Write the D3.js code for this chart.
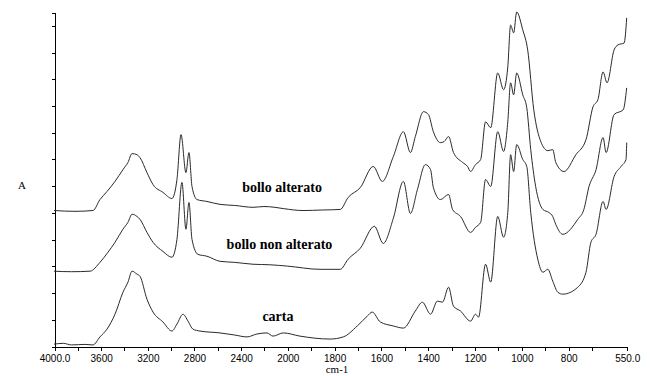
<!DOCTYPE html>
<meta charset="utf-8">
<style>
body { margin: 0; background: #fff; }
.axis path, .axis line { stroke: #000; shape-rendering: crispEdges; }
.axis text { font-family: "Liberation Sans", Arial, sans-serif; font-size: 10px; fill: #000; }
.spettro { fill: none; stroke: #2a2a2a; stroke-width: 1; stroke-linejoin: round; }
.nome { font-family: "Liberation Serif", "Times New Roman", serif; font-weight: bold; font-size: 14px; text-anchor: middle; }
.lab { font-family: "Liberation Serif", "Times New Roman", serif; font-size: 11px; }
</style>
<svg width="650" height="376"></svg>
<script src="https://d3js.org/d3.v7.min.js"></script>
<script>

// wavenumber (cm-1), absorbance
var bolloAlterato = [
  [4000,0.507],[3820,0.504],[3666,0.507],[3606,0.548],[3546,0.578],[3477,0.616],[3409,0.660],
  [3366,0.687],[3331,0.720],[3289,0.716],[3263,0.705],[3203,0.649],[3151,0.604],[3066,0.575],
  [2989,0.552],[2946,0.623],[2911,0.791],[2869,0.649],[2843,0.724],[2817,0.597],[2774,0.548],
  [2689,0.541],[2577,0.530],[2450,0.526],[2294,0.519],[2200,0.522],[2106,0.519],[2030,0.514],
  [1933,0.507],[1850,0.509],[1774,0.511],[1740,0.556],[1688,0.593],[1633,0.672],[1594,0.616],
  [1547,0.709],[1504,0.802],[1474,0.724],[1453,0.784],[1418,0.877],[1397,0.866],[1376,0.802],
  [1346,0.761],[1330,0.765],[1311,0.784],[1290,0.724],[1251,0.687],[1230,0.672],[1217,0.653],
  [1196,0.679],[1174,0.698],[1153,0.839],[1131,0.817],[1101,1.022],[1076,0.959],[1058,1.045],
  [1046,1.201],[1033,1.172],[1020,1.250],[994,1.183],[973,1.108],[947,0.884],[917,0.765],
  [887,0.731],[866,0.735],[853,0.687],[818,0.653],[767,0.716],[724,0.772],[694,0.895],
  [673,0.922],[651,1.026],[634,0.985],[604,1.108],[587,1.127],[561,1.134],[550,1.228]
];

var bolloNonAlterato = [
  [4000,0.280],[3850,0.278],[3691,0.280],[3606,0.313],[3537,0.351],[3477,0.388],[3409,0.437],
  [3366,0.463],[3331,0.493],[3289,0.485],[3263,0.474],[3203,0.425],[3151,0.388],[3066,0.354],
  [2989,0.332],[2946,0.399],[2903,0.612],[2869,0.437],[2843,0.537],[2817,0.399],[2766,0.343],
  [2689,0.336],[2577,0.317],[2450,0.313],[2294,0.306],[2150,0.304],[2000,0.299],[1860,0.287],
  [1774,0.287],[1740,0.325],[1688,0.366],[1628,0.448],[1590,0.384],[1547,0.478],[1504,0.616],
  [1474,0.496],[1444,0.586],[1410,0.679],[1388,0.660],[1376,0.593],[1346,0.548],[1311,0.567],
  [1294,0.511],[1260,0.485],[1217,0.425],[1196,0.444],[1174,0.463],[1153,0.623],[1131,0.597],
  [1101,0.802],[1076,0.728],[1058,0.839],[1046,0.985],[1033,0.940],[1020,1.022],[994,0.940],
  [977,0.892],[960,0.735],[939,0.597],[908,0.511],[883,0.500],[866,0.485],[853,0.455],
  [823,0.418],[759,0.474],[733,0.511],[711,0.597],[681,0.660],[651,0.780],[638,0.724],
  [604,0.866],[565,0.884],[550,0.966]
];

var carta = [
  [4000,0.007],[3920,0.010],[3850,0.004],[3734,0.006],[3666,0.004],[3606,0.034],[3546,0.063],
  [3477,0.119],[3409,0.201],[3366,0.239],[3331,0.280],[3289,0.269],[3263,0.261],[3203,0.175],
  [3151,0.127],[3066,0.090],[2989,0.056],[2946,0.082],[2894,0.119],[2851,0.093],[2809,0.063],
  [2749,0.056],[2577,0.049],[2450,0.041],[2346,0.034],[2260,0.045],[2174,0.049],[2123,0.037],
  [2034,0.049],[1946,0.037],[1817,0.026],[1761,0.034],[1701,0.075],[1658,0.112],[1637,0.127],
  [1603,0.090],[1547,0.075],[1504,0.067],[1453,0.131],[1423,0.164],[1388,0.119],[1359,0.168],
  [1337,0.164],[1311,0.220],[1290,0.149],[1260,0.131],[1217,0.093],[1196,0.119],[1183,0.108],
  [1153,0.306],[1131,0.239],[1101,0.485],[1076,0.407],[1058,0.500],[1046,0.716],[1033,0.653],
  [1020,0.754],[994,0.698],[977,0.672],[960,0.500],[930,0.325],[908,0.276],[887,0.287],
  [866,0.243],[844,0.201],[823,0.194],[759,0.220],[724,0.276],[703,0.388],[681,0.418],
  [651,0.541],[638,0.511],[604,0.634],[574,0.672],[553,0.698],[550,0.761]
];

var serie = [
  {nome: "bollo alterato", dati: bolloAlterato, lx: 2045, ly: 0.575},
  {nome: "bollo non alterato", dati: bolloNonAlterato, lx: 2067, ly: 0.364},
  {nome: "carta", dati: carta, lx: 2080, ly: 0.093}
];

var xMajor = [4000, 3600, 3200, 2800, 2400, 2000, 1800, 1600, 1400, 1200, 1000, 800, 550];
var xMinor = [3800, 3400, 3000, 2600, 2200, 1900, 1700, 1500, 1300, 1100, 900, 700];
var yTicks = d3.range(0, 1.25, 0.1);

var svg = d3.select("svg");

// the spectrometer plot expands the scale below 2000 cm-1
var x = d3.scaleLinear()
    .domain([4000, 2000, 550])
    .range([54, 287.3, 626.7]);

var y = d3.scaleLinear()
    .domain([0, 1.25])
    .range([346, 12]);

svg.append("g")
    .attr("class", "axis")
    .attr("transform", "translate(0.5,346.5)")
    .call(d3.axisBottom(x)
      .tickValues(xMajor.concat(xMinor))
      .tickSizeInner(4).tickSizeOuter(0)
      .tickPadding(4)
      .tickFormat(function(d) {
        if (xMajor.indexOf(d) < 0) return "";
        return (d == 4000 || d == 550) ? d3.format(".1f")(d) : d;
      }));

svg.append("g")
    .attr("class", "axis")
    .attr("transform", "translate(54.5,0.5)")
    .call(d3.axisLeft(y)
      .tickValues(yTicks)
      .tickSizeInner(3).tickSizeOuter(3)
      .tickFormat(""));

var line = d3.line()
    .curve(d3.curveMonotoneX)
    .x(function(d) { return x(d[0]); })
    .y(function(d) { return y(d[1]); });

svg.selectAll(".spettro")
    .data(serie)
  .enter().append("path")
    .attr("class", "spettro")
    .attr("d", function(d) { return line(d.dati); });

svg.selectAll(".nome")
    .data(serie)
  .enter().append("text")
    .attr("class", "nome")
    .attr("x", function(d) { return x(d.lx); })
    .attr("y", function(d) { return y(d.ly); })
    .text(function(d) { return d.nome; });

svg.append("text")
    .attr("class", "lab")
    .attr("x", 18)
    .attr("y", 189)
    .text("A");

svg.append("text")
    .attr("class", "lab")
    .attr("text-anchor", "middle")
    .attr("x", 337)
    .attr("y", 373)
    .text("cm-1");

</script>
